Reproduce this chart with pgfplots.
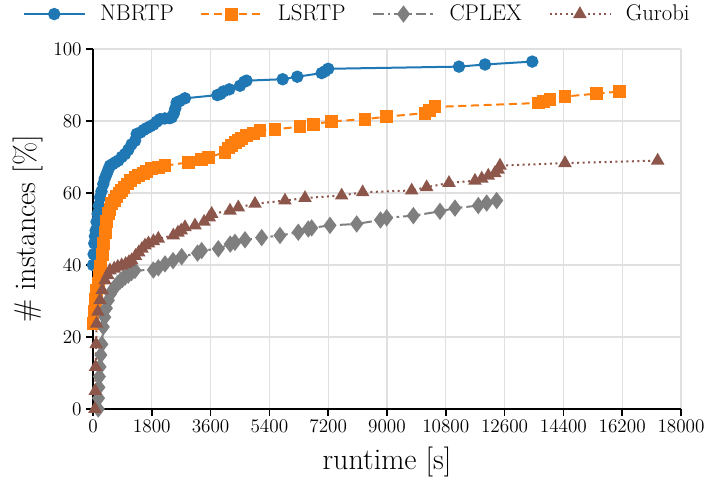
\documentclass[border=0pt]{standalone}
\usepackage{pgfplots}
\pgfplotsset{compat=1.18}
\definecolor{tblue}{HTML}{1F77B4}
\definecolor{torange}{HTML}{FF7F0E}
\definecolor{tgray}{HTML}{7F7F7F}
\definecolor{tbrown}{HTML}{8C564B}
\definecolor{gridc}{HTML}{E0E0E0}
\begin{document}
\begin{tikzpicture}
\begin{axis}[
  scale only axis,
  width=441pt, height=270pt,
  xmin=0, xmax=18000, ymin=0, ymax=100,
  xtick={0,1800,...,18000},
  ytick={0,20,...,100},
  scaled x ticks=false,
  x tick label style={/pgf/number format/.cd, 1000 sep={}, fixed},
  axis x line*=bottom, axis y line*=left,
  axis line style={line width=1.1pt, black, -},
  tick style={black, line width=1.1pt},
  tick align=outside,
  major tick length=5pt,
  grid=major,
  major grid style={gridc, line width=0.9pt},
  tick label style={font=\fontsize{14.5}{17}\selectfont},
  xlabel={runtime [s]},
  ylabel={\# instances [\%]},
  label style={font=\fontsize{22.5}{26}\selectfont},
  xlabel style={at={(axis description cs:0.5,-0.147)}, anchor=center},
  ylabel style={at={(axis description cs:-0.11,0.5)}, anchor=center},
  legend columns=4,
  legend style={at={(axis description cs:0.45,1.097)}, anchor=center, draw=none, fill=none,
    font=\fontsize{17}{20}\selectfont, inner sep=1pt,
    /tikz/every even column/.append style={column sep=18pt},
    /tikz/every odd column/.append style={column sep=9pt}},
  legend cell align=left,
  legend image code/.code={\draw[mark repeat=2,mark phase=2,#1] plot coordinates {(0cm,0cm) (0.8cm,0cm) (1.6cm,0cm)};},
  every axis plot/.append style={line width=1.5pt},
  clip=false,
]
\addplot[tblue, solid, mark=*, mark size=3.9pt, mark options={solid}] coordinates {
(0,40) (20,43) (40,46) (60,48) (82,49.6) (110,52) (143,54.2) (180,56.5) (214,58.8) (260,60.5)
(316,62.5) (360,64) (418,65.3) (470,66.5) (520,67.6) (600,68) (680,68.5) (775,69) (880,70) (980,70.8)
(1080,72) (1180,73.5) (1286,74.5) (1338,76.4) (1450,76.8) (1550,77.5) (1643,78) (1750,78.5) (1850,79) (1950,79.8)
(2051,80.5) (2200,80.7) (2350,80.8) (2409,81) (2470,82) (2520,83.5) (2562,85.1) (2650,85.5) (2816,86.3) (3805,87.2)
(3900,87.5) (3989,88.2) (4173,88.8) (4500,89.8) (4631,90.9) (4700,91.2) (5806,91.6) (6254,92.3) (7000,93.3) (7100,93.8)
(7200,94.5) (11203,95.1) (12000,95.7) (13447,96.5)
};
\addlegendentry{NBRTP}
\addplot[torange, dash pattern=on 6pt off 3.5pt, mark=square*, mark size=4.1pt, mark options={solid}] coordinates {
(0,23.7) (40,27) (80,30.5) (120,33) (162,34.8) (200,37) (240,39.5) (280,43) (316,45.9) (370,49)
(420,52) (469,54.2) (520,55.5) (572,57) (650,58) (720,59) (800,60) (878,60.7) (950,61.5) (1050,62.5)
(1150,63.5) (1286,64.3) (1400,64.8) (1540,65.3) (1650,66) (1797,66.7) (2000,67.2) (2204,67.6) (2917,68.5) (3327,69.4)
(3530,69.9) (4040,71.3) (4150,72.5) (4250,73.3) (4350,74) (4448,74.5) (4550,75.2) (4705,75.9) (4900,76.5) (5112,77.3)
(5571,77.7) (6336,78.4) (6744,79.1) (7306,79.9) (8326,80.5) (8990,81.2) (10163,82.2) (10300,83) (10469,83.9) (13631,85)
(13800,85.5) (13989,86) (14448,86.8) (15418,87.6) (16131,88.2)
};
\addlegendentry{LSRTP}
\addplot[tgray, dash pattern=on 8pt off 3pt on 2pt off 3pt, mark=diamond*, mark size=5.3pt, mark options={solid}] coordinates {
(162,0) (170,3) (180,6) (195,9) (214,11.7) (240,15) (270,18) (316,22.8) (360,25.5) (410,28)
(469,30.2) (540,32) (600,33) (673,33.9) (750,34.8) (830,35.5) (900,36) (980,36.6) (1080,37.2) (1180,37.9)
(1286,38.5) (1847,38.6) (2000,39.2) (2204,40.3) (2450,41.2) (2715,42.3) (3200,43.3) (3327,44) (3836,44.5) (4200,45.8)
(4346,46.3) (4653,47) (5164,47.6) (5724,48.2) (6284,49.1) (6590,50) (6694,50.3) (7255,51) (8072,51.4) (8800,52.5)
(8990,53.1) (9806,53.7) (10622,54.9) (11081,55.8) (11795,56.5) (12051,57.2) (12357,57.9)
};
\addlegendentry{CPLEX}
\addplot[tbrown, dash pattern=on 1.5pt off 2.6pt, mark=triangle*, mark size=4.4pt, mark options={solid}] coordinates {
(60,0) (70,5) (80,11.7) (95,18) (112,23.7) (150,27) (214,30.2) (280,33) (367,35.7) (450,37.2)
(520,38.5) (650,39) (760,39.5) (878,39.9) (1000,40.3) (1100,40.8) (1184,41.3) (1300,42.5) (1400,43.5) (1500,44.5)
(1592,45.4) (1700,46) (1850,46.6) (1999,47.3) (2459,48.2) (2600,49) (2700,49.6) (2816,50.5) (3122,51) (3400,52)
(3560,53.2) (3633,54.2) (4194,55.1) (4448,56) (4959,57) (5877,57.9) (6489,58.6) (7612,59.3) (8255,60.2) (9755,60.7)
(10214,61.6) (10897,62.8) (11693,63.4) (11900,64) (12100,64.8) (12300,65.5) (12400,66.5) (12459,67.6) (14448,68.3) (17286,69)
};
\addlegendentry{Gurobi}
\end{axis}
\pgfresetboundingbox
\path[use as bounding box] ([xshift=-69.75pt,yshift=-51pt]current axis.south west) rectangle ([xshift=19.5pt,yshift=36.75pt]current axis.north east);
\end{tikzpicture}
\end{document}
